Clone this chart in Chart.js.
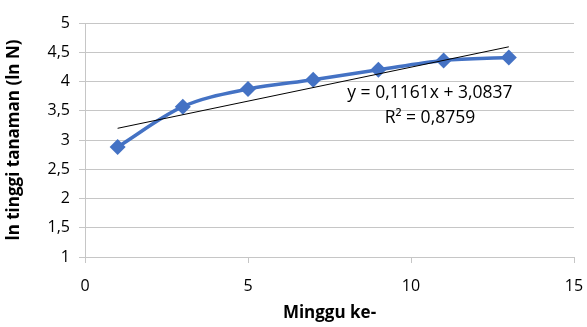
<!DOCTYPE html>
<html>
<head>
<meta charset="utf-8">
<script src="https://cdn.jsdelivr.net/npm/chart.js@4/dist/chart.umd.min.js"></script>
<style>
  html,body{margin:0;padding:0;background:#fff;}
  #wrap{width:587px;height:327px;position:relative;}
</style>
</head>
<body>
<div id="wrap"><canvas id="c"></canvas></div>
<script>
// weeks and ln(plant height)
const WEEKS = [1, 3, 5, 7, 9, 11, 13];
const LN_HEIGHT = [2.88, 3.57, 3.87, 4.03, 4.20, 4.36, 4.41];
const TREND_SLOPE = 0.1161;
const TREND_INTERCEPT = 3.0837;
const TREND_TEXT = ["y = 0,1161x + 3,0837", "R² = 0,8759"];
const X_TICKS = [0, 5, 10, 15];
const Y_TICKS = [1, 1.5, 2, 2.5, 3, 3.5, 4, 4.5, 5];

const FONT = "'Open Sans', sans-serif";
const GRID = "#c6c6c6";
const BLUE = "#4472c4";

const points = WEEKS.map((w,i)=>({x:w, y:LN_HEIGHT[i]}));
const x0 = WEEKS[0], x1 = WEEKS[WEEKS.length-1];
const trend = [x0, x1].map(x=>({x, y: TREND_SLOPE*x + TREND_INTERCEPT}));

const fmt = v => String(v).replace(".", ",");

const trendLabel = {
  id: "trendLabel",
  afterDatasetsDraw(chart){
    const {ctx, scales:{x, y}} = chart;
    ctx.save();
    ctx.font = "17.5px " + FONT;
    ctx.fillStyle = "#000";
    ctx.textAlign = "center";
    ctx.textBaseline = "middle";
    const cx = x.getPixelForValue(10.58);
    ctx.fillText(TREND_TEXT[0], cx, y.getPixelForValue(3.80));
    ctx.fillText(TREND_TEXT[1], cx, y.getPixelForValue(3.37));
    ctx.restore();
  }
};

new Chart(document.getElementById("c"), {
  type: "scatter",
  data: {
    datasets: [
      { data: trend, showLine: true, borderColor: "#000", borderWidth: 1, pointRadius: 0, tension: 0, order: 0 },
      { data: points, showLine: true, borderColor: BLUE, backgroundColor: BLUE, borderWidth: 3.5,
        pointStyle: "rectRot", pointRadius: 8, pointBorderWidth: 0, cubicInterpolationMode: "monotone", order: 1 }
    ]
  },
  options: {
    responsive: true,
    maintainAspectRatio: false,
    animation: false,
    layout: { padding: { top: 23, right: 5, left: 0, bottom: 0 } },
    plugins: { legend: { display: false }, tooltip: { enabled: false } },
    scales: {
      x: {
        type: "linear", min: 0, max: 15,
        afterBuildTicks: s => { s.ticks = X_TICKS.map(v=>({value:v})); },
        afterFit: s => { s.height = 70; s.paddingRight = 13; },
        grid: { drawOnChartArea: false, drawTicks: true, tickLength: 6, color: GRID },
        border: { color: GRID },
        ticks: { color: "#000", font: { family: FONT, size: 16 }, padding: 14, maxRotation: 0 },
        title: { display: true, text: "Minggu ke-", color: "#000", font: { family: FONT, size: 17, weight: "bold" }, padding: { top: 4 } }
      },
      y: {
        type: "linear", min: 1, max: 5,
        afterBuildTicks: s => { s.ticks = Y_TICKS.map(v=>({value:v})); },
        afterFit: s => { s.width = 85; },
        grid: { color: GRID, tickLength: 6 },
        border: { color: GRID },
        ticks: { color: "#000", font: { family: FONT, size: 16 }, padding: 9, callback: v => fmt(v) },
        title: { display: true, text: "ln tinggi tanaman (ln N)", color: "#000", font: { family: FONT, size: 17, weight: "bold" }, padding: { bottom: 2 } }
      }
    }
  },
  plugins: [trendLabel]
});
</script>
</body>
</html>
